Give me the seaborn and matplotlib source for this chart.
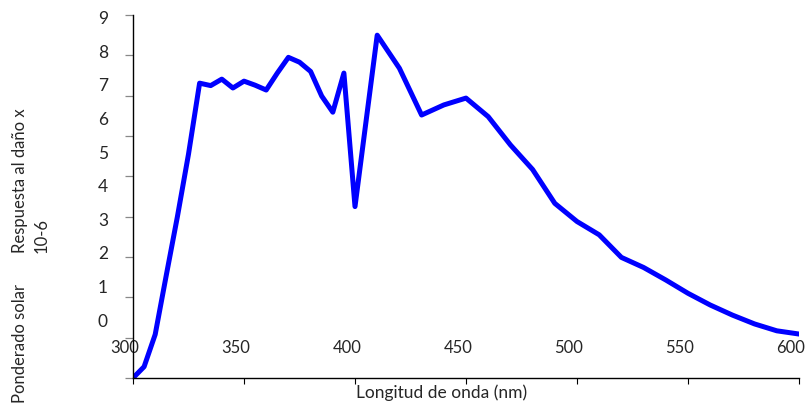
import numpy as np
import pandas as pd
import seaborn as sns
import matplotlib.pyplot as plt
from matplotlib.transforms import ScaledTranslation

# longitud de onda (nm) y respuesta ponderada (x 10-6)
wavelength = [300, 305, 310, 315, 320, 325, 330, 335, 340, 345, 350, 355, 360,
              365, 370, 375, 380, 385, 390, 395, 400, 410, 420, 430, 440, 450,
              460, 470, 480, 490, 500, 510, 520, 530, 540, 550, 560, 570, 580,
              590, 600]
response = [0.0, 0.28, 1.08, 2.55, 4.0, 5.55, 7.31, 7.25, 7.41, 7.19, 7.36, 7.26,
            7.14, 7.56, 7.95, 7.83, 7.60, 6.99, 6.59, 7.56, 4.25, 8.50, 7.68,
            6.52, 6.77, 6.94, 6.48, 5.78, 5.17, 4.33, 3.88, 3.55, 2.99, 2.74,
            2.43, 2.10, 1.81, 1.56, 1.34, 1.17, 1.09]

x_ticks = [300, 350, 400, 450, 500, 550, 600]
y_ticks = list(range(10))

df = pd.DataFrame({'wl': wavelength, 'resp': response})

sns.set_style('white')
plt.rcParams['font.family'] = ['Lato', 'DejaVu Sans']

fig = plt.figure(figsize=(8.05, 4.04), dpi=100)
ax = fig.add_axes([133 / 805, 26 / 404, 666 / 805, 363 / 404])

sns.lineplot(data=df, x='wl', y='resp', ax=ax, color='#0000ff', linewidth=3.6)
ax.lines[0].set_solid_joinstyle('round')

ax.set_xlim(300, 600)
ax.set_ylim(0, 9)
for side in ['top', 'right']:
    ax.spines[side].set_visible(False)
for side in ['left', 'bottom']:
    ax.spines[side].set_color('black')
    ax.spines[side].set_linewidth(1.0)

# x: labels sit inside the plot, slightly left of their ticks
ax.set_xticks(x_ticks, labels=[str(v) for v in x_ticks])
ax.tick_params(axis='x', which='major', direction='out', length=4.5, width=0.8,
               color='black', bottom=True, labelsize=12, pad=-32)
shift = ScaledTranslation(-8 / 100, 0, fig.dpi_scale_trans)
for lab in ax.get_xticklabels():
    lab.set_transform(lab.get_transform() + shift)

# y: tick marks at each integer, labels squeezed towards the top
ax.set_yticks(y_ticks, labels=[''] * len(y_ticks))
ax.tick_params(axis='y', which='major', direction='out', length=6, width=0.9,
               color='#888888', left=True)
ax.set_yticks([1.438 + 0.833 * k for k in y_ticks], labels=[str(k) for k in y_ticks],
              minor=True)
ax.tick_params(axis='y', which='minor', length=0, labelsize=12.5, pad=18)

ax.set_xlabel('Longitud de onda (nm)', fontsize=12.5, ha='center', va='top')
ax.xaxis.set_label_coords((442 - 133) / 666, -6 / 363)
ax.set_ylabel('')

fig.text(31 / 805, 1 - 253 / 404, 'Respuesta al daño x\n10-6', rotation=90,
         fontsize=12, ha='center', va='bottom', multialignment='left',
         linespacing=1.4)
fig.text(20 / 805, 1 - 403 / 404, 'Ponderado solar', rotation=90,
         fontsize=12, ha='center', va='bottom')

plt.savefig('out.png', dpi=100)
